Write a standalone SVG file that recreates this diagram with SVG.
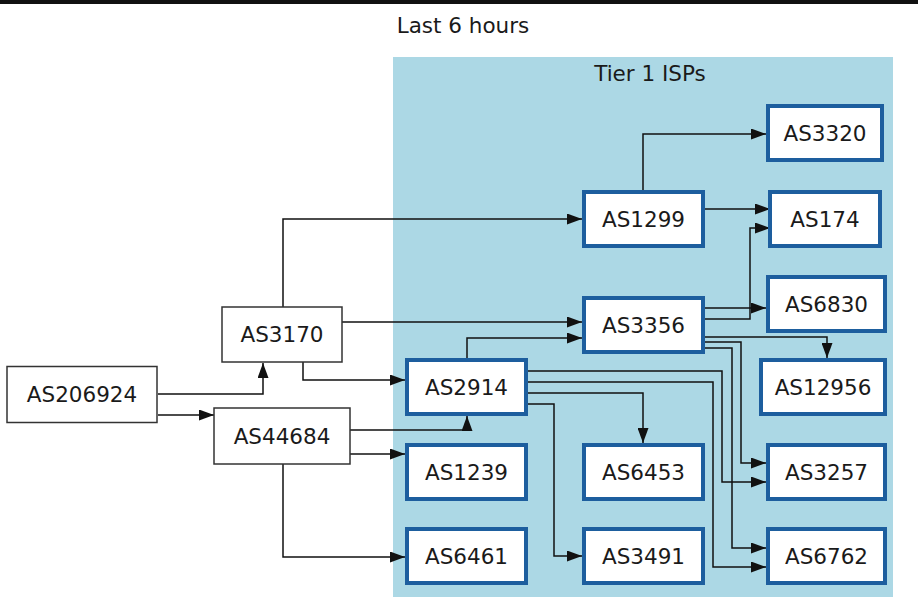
<svg xmlns="http://www.w3.org/2000/svg" width="918" height="613" viewBox="0 0 918 613">
<defs>
<marker id="arr" markerUnits="userSpaceOnUse" markerWidth="15" markerHeight="11" refX="15" refY="5.5" orient="auto">
<path d="M0,0 L15,5.5 L0,11 z" fill="#111"/>
</marker>
<style>
text{font-family:"DejaVu Sans","Noto Sans",sans-serif;fill:#1a1a1a;text-anchor:middle}
.lbl{font-size:21.5px}
.ttl{font-size:21.5px}
.t1 rect{fill:#fff;stroke:#1d5e9e;stroke-width:4}
.ext rect{fill:#fff;stroke:#333;stroke-width:1.5}
#edges path{fill:none;stroke:#111;stroke-width:1.5;marker-end:url(#arr)}
</style>
</defs>
<rect x="0" y="0" width="918" height="613" fill="#fff"/>
<rect x="0" y="0" width="918" height="4" fill="#111"/>
<text class="ttl" x="463" y="33">Last 6 hours</text>
<g id="cluster_tier1">
<rect x="393" y="57" width="500" height="540" fill="#acd8e5"/>
<text class="ttl" x="650" y="81">Tier 1 ISPs</text>
</g>
<g id="edges">
<path d="M158,394 H263 V363"/>
<path d="M158,415 H214"/>
<path d="M283,307 V219 H582"/>
<path d="M342,322 H582"/>
<path d="M303,362 V380 H405"/>
<path d="M350,430 H467 V416"/>
<path d="M350,454 H405"/>
<path d="M283,464 V557 H405"/>
<path d="M467,358 V338 H582"/>
<path d="M643,190 V134 H766"/>
<path d="M705,209 H770"/>
<path d="M705,319 H750 V228 H770"/>
<path d="M705,308 H766"/>
<path d="M705,337 H827 V358"/>
<path d="M705,342 H741 V463 H766"/>
<path d="M705,348 H732 V548 H766"/>
<path d="M528,371 H722 V482 H766"/>
<path d="M528,382 H713 V567 H766"/>
<path d="M528,393 H643 V443"/>
<path d="M528,404 H554 V556 H582"/>
</g>
<g id="AS206924" class="ext"><rect x="7" y="366.5" width="150" height="56"/><text class="lbl" x="82" y="402">AS206924</text></g>
<g id="AS3170" class="ext"><rect x="222" y="307" width="120" height="55"/><text class="lbl" x="282" y="342">AS3170</text></g>
<g id="AS44684" class="ext"><rect x="214" y="408" width="136" height="56"/><text class="lbl" x="282" y="443.5">AS44684</text></g>
<g id="AS3320" class="t1"><rect x="768" y="106" width="114" height="54"/><text class="lbl" x="825" y="140.5">AS3320</text></g>
<g id="AS1299" class="t1"><rect x="584" y="192" width="119" height="54"/><text class="lbl" x="643.5" y="226.5">AS1299</text></g>
<g id="AS174" class="t1"><rect x="770" y="192" width="110" height="54"/><text class="lbl" x="825" y="226.5">AS174</text></g>
<g id="AS6830" class="t1"><rect x="768" y="277" width="117" height="54"/><text class="lbl" x="826.5" y="311.5">AS6830</text></g>
<g id="AS3356" class="t1"><rect x="584" y="298" width="119" height="54"/><text class="lbl" x="643.5" y="332.5">AS3356</text></g>
<g id="AS12956" class="t1"><rect x="761" y="360" width="124" height="54"/><text class="lbl" x="823" y="394.5">AS12956</text></g>
<g id="AS2914" class="t1"><rect x="407" y="360" width="119" height="54"/><text class="lbl" x="466.5" y="394.5">AS2914</text></g>
<g id="AS1239" class="t1"><rect x="407" y="445" width="119" height="54"/><text class="lbl" x="466.5" y="479.5">AS1239</text></g>
<g id="AS6453" class="t1"><rect x="584" y="445" width="119" height="54"/><text class="lbl" x="643.5" y="479.5">AS6453</text></g>
<g id="AS3257" class="t1"><rect x="768" y="445" width="117" height="54"/><text class="lbl" x="826.5" y="479.5">AS3257</text></g>
<g id="AS6461" class="t1"><rect x="407" y="529" width="119" height="54"/><text class="lbl" x="466.5" y="563.5">AS6461</text></g>
<g id="AS3491" class="t1"><rect x="584" y="529" width="119" height="54"/><text class="lbl" x="643.5" y="563.5">AS3491</text></g>
<g id="AS6762" class="t1"><rect x="768" y="529" width="117" height="54"/><text class="lbl" x="826.5" y="563.5">AS6762</text></g>
</svg>
